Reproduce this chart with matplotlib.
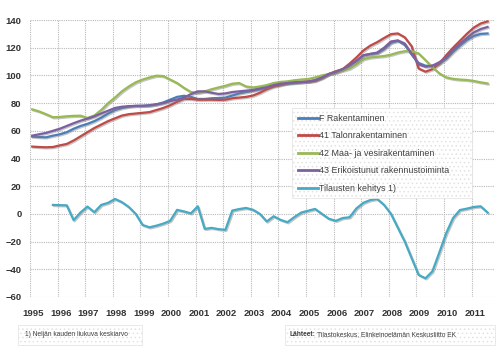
import numpy as np
import matplotlib.pyplot as plt
import matplotlib.patheffects as pe
from matplotlib.patches import Rectangle

# --- Data: quarterly, 1995Q1 - 2011Q3 (index series) ---
first_year = 1995
rakentaminen = [55.8, 55.5, 55.3, 56.5, 57.5, 59, 61.5, 63.5, 65, 67, 69.5, 72.5,
                75, 76.5, 77.5, 78, 78, 78.2, 79, 80.5, 82.5, 84.5, 85.3, 84.5,
                83, 83, 83.5, 83.7, 84, 85.5, 87, 88, 89, 90, 91, 92.5,
                93.5, 94, 94.5, 95, 95.5, 96.5, 98.5, 101, 102.5, 104.5, 107, 110.5,
                114.5, 115.5, 116, 119, 123.5, 125, 122, 115, 109, 107, 107, 108.5,
                112, 117, 121.5, 125.5, 128.5, 130, 130.3]
talonrak = [48.6, 48.3, 48.1, 48.3, 49.5, 50.5, 53, 56, 59, 62, 64.5, 67,
            69, 71, 72, 72.5, 73, 73.5, 75, 76.5, 78.5, 81, 83, 83,
            82.5, 82.5, 82.5, 82.3, 82.5, 83.5, 84, 84.5, 85.5, 87.5, 90, 92,
            93, 94.5, 95, 95.3, 95.5, 96, 98, 101, 103, 104.5, 108.5, 113,
            118, 121.5, 124, 127, 129.8, 130.3, 127.5, 121, 105, 102.7, 104.5, 108.5,
            114.5, 120, 125, 130, 134.5, 137.5, 139]
maa_vesi = [75.5, 74, 72, 69.8, 70, 70.5, 70.8, 70.9, 69.3, 71, 75, 80,
            84, 88.5, 92, 95, 97, 98.5, 99.8, 99.5, 97, 94.5, 91, 88,
            87.3, 88.5, 90, 91.3, 92.5, 94, 94.5, 92, 91.3, 92, 93, 94.5,
            95.3, 95.7, 96.5, 97, 97.4, 98.5, 100, 101, 102, 103.5, 105, 108,
            111.8, 113, 113.5, 114, 115, 116.5, 117.5, 117.5, 115.9, 111, 106, 101.5,
            98.6, 97.5, 97, 96.7, 96, 95, 94.2]
erikoist = [56.5, 57.5, 58.5, 60, 61.5, 63.5, 65.5, 67.3, 68.8, 70.5, 72.5, 74.5,
            76.5, 77.4, 77.8, 78, 78.1, 78.5, 79.2, 80, 81.5, 82.5, 84, 86.5,
            88.5, 88.5, 87.5, 86.6, 87, 88, 88.5, 89, 89.5, 90.5, 91.5, 93,
            94, 94.5, 95, 95.2, 95.5, 96.5, 98.5, 101, 102.5, 104.5, 107.5, 110.5,
            114.5, 115.5, 116.5, 120, 124.5, 125.3, 123, 115.5, 108, 106.3, 107, 109.5,
            113, 118.5, 123, 127, 131, 133.5, 135]
# Tilausten kehitys 1), quarterly 1995Q4 - 2011Q3
tilaukset_start = 3  # quarter index of first value (1995Q4)
tilaukset = [6.5, 6.3, 6.2, -4.5, 1, 5.3, 1.2, 6.5, 8, 10.8, 8.5, 5,
             0, -8, -9.7, -8.5, -7, -5, 2.9, 1.8, 0.4, 5.5, -10.8, -10.1,
             -11, -11.5, 2.4, 3.5, 4.3, 3, 0, -5.5, -1.7, -4.3, -6, -2.3,
             1, 2.3, 3.6, 0, -3.5, -5, -3, -2.4, 4, 8, 10, 10.8,
             6.5, 0, -10, -20, -32, -44, -46.5, -41.5, -28, -14, -3, 2.8,
             3.8, 5, 5.5, 1]

labels = ["F Rakentaminen", "41 Talonrakentaminen", "42 Maa- ja vesirakentaminen",
          "43 Erikoistunut rakennustoiminta", "Tilausten kehitys 1)"]
colors = ["#4a7ebb", "#be4b48", "#98b954", "#7d60a0", "#46aac5"]
years = np.arange(1995, 2012)

q_idx = np.arange(len(rakentaminen))
t = first_year + q_idx / 4 + 0.08
t_til = first_year + (tilaukset_start + np.arange(len(tilaukset))) / 4 + 0.08

plt.rcParams['font.family'] = ['Liberation Sans', 'DejaVu Sans']
plt.rcParams['hatch.linewidth'] = 0.6
fig = plt.figure(figsize=(5.03, 3.54), dpi=100)
ax = fig.add_axes([30 / 503, 1 - 297 / 354, 465 / 503, 277 / 354])

shadow = [pe.SimpleLineShadow(offset=(0.8, -0.8), shadow_color='#808080', alpha=0.45),
          pe.Normal()]
series = [rakentaminen, talonrak, maa_vesi, erikoist]
for vals, lab, col in zip(series, labels[:4], colors[:4]):
    ax.plot(t, vals, color=col, lw=1.6, label=lab, path_effects=shadow)
ax.plot(t_til, tilaukset, color=colors[4], lw=1.6, label=labels[4], path_effects=shadow)

ax.set_xlim(1995, 2011.85)
ax.set_ylim(-60, 140)
ax.set_yticks(np.arange(-60, 141, 20))
ax.set_xticks(years)
ax.set_xticklabels([])
ax.set_xticks(years + 0.12, minor=True)
ax.set_xticklabels([str(y) for y in years], minor=True)
ax.tick_params(axis='both', which='both', length=0)
ax.tick_params(axis='x', which='minor', pad=9)
ax.tick_params(axis='y', pad=6)
for lbl in ax.get_xticklabels(minor=True) + ax.get_yticklabels():
    lbl.set_fontsize(6.8)
    lbl.set_fontweight('bold')
    lbl.set_color('#333333')
ax.grid(True, which='major', color='#b8b8b8', linestyle=(0, (1, 1)), linewidth=0.8)
for s in ax.spines.values():
    s.set_visible(False)

leg = ax.legend(loc='upper left', bbox_to_anchor=(0.563, 0.357, 0.387, 0.325),
                mode='expand', fontsize=6.4,
                handlelength=2.3, handletextpad=0.1, labelspacing=0.95,
                borderpad=0.65, borderaxespad=0, fancybox=False, framealpha=1)
frame = leg.get_frame()
frame.set_facecolor('white')
frame.set_edgecolor('#e2e2e2')
frame.set_hatch('....')
frame.set_linewidth(0.5)
for txt in leg.get_texts():
    txt.set_color('#404040')
for h in leg.get_lines():
    h.set_path_effects([])
    h.set_linewidth(2)

# footnote boxes
for (x0, w) in [(18, 124), (285, 210)]:
    r = Rectangle((x0 / 503, 1 - 345 / 354), w / 503, 20 / 354, transform=fig.transFigure,
                  facecolor='white', edgecolor='#e2e2e2', hatch='....', lw=0.5)
    fig.patches.append(r)
fig.text(25 / 503, 1 - 335 / 354, "1) Neljän kauden liukuva keskiarvo", fontsize=4.8,
         color='#404040', va='center')
bold = fig.text(289 / 503, 1 - 335 / 354, "Lähteet:", fontsize=4.8, color='#404040',
                va='center', fontweight='bold')
fig.canvas.draw()
bb = bold.get_window_extent()
fig.text((bb.x1 + 2) / 503, 1 - 335 / 354, "Tilastokeskus, Elinkeinoelämän Keskusliitto EK",
         fontsize=4.8, color='#404040', va='center')

fig.savefig("out.png", dpi=100)
